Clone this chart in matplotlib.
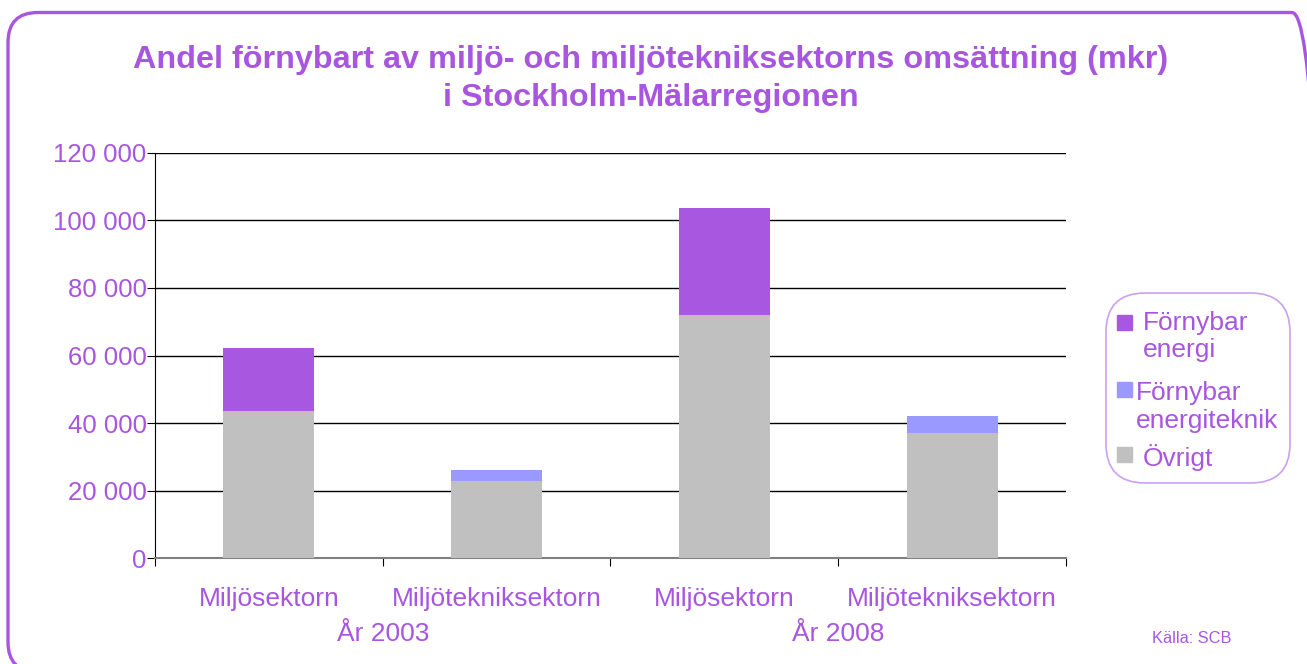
import numpy as np
import matplotlib.pyplot as plt
from matplotlib.patches import FancyBboxPatch, Rectangle
from matplotlib.ticker import FuncFormatter

plt.rcParams['font.family'] = ['Liberation Sans', 'DejaVu Sans']

# data (mkr)
sectors = ['Miljösektorn', 'Miljötekniksektorn', 'Miljösektorn', 'Miljötekniksektorn']
years = ['År 2003', 'År 2008']
ovrigt = [43600, 22800, 72000, 37000]
fornybar_energi = [18700, 0, 31600, 0]
fornybar_teknik = [0, 3300, 0, 5100]

purple = '#A757E0'
text_purple = '#A855E0'
light = '#9999FF'
gray = '#C0C0C0'

W, H = 1307, 664
fig = plt.figure(figsize=(W / 100, H / 100), dpi=100)
ax = fig.add_axes([0.1186, 0.1596, 0.697, 0.61])


def px(x, y):
    # pixel position (from top left) -> figure fraction
    return x / W, 1 - y / H


x = np.arange(len(sectors))
w = 0.4
ax.bar(x, ovrigt, w, color=gray, zorder=3)
ax.bar(x, fornybar_energi, w, bottom=ovrigt, color=purple, zorder=3)
ax.bar(x, fornybar_teknik, w, bottom=np.array(ovrigt) + np.array(fornybar_energi),
       color=light, zorder=3)

ax.set_xlim(-0.5, len(sectors) - 0.5)
ax.set_ylim(0, 120000)
ax.set_yticks(np.arange(0, 120001, 20000))
ax.yaxis.set_major_formatter(FuncFormatter(lambda v, p: f'{int(v):,}'.replace(',', ' ')))
ax.grid(axis='y', color='black', lw=1, zorder=0)

ax.set_xticks(np.arange(-0.5, len(sectors), 1))
ax.set_xticklabels([])
ax.set_xticks(x, minor=True)
ax.set_xticklabels(sectors, minor=True)
ax.tick_params(axis='x', which='major', length=6, direction='out', color='black')
ax.tick_params(axis='x', which='minor', length=0, pad=21, labelsize=19, labelcolor=text_purple)
ax.tick_params(axis='y', length=6, direction='out', labelsize=18.5, labelcolor=text_purple, pad=0)

for s in ['top', 'right']:
    ax.spines[s].set_visible(False)
ax.spines['bottom'].set_color('#808080')
ax.spines['bottom'].set_linewidth(1.5)
ax.spines['left'].set_color('black')

for i, yr in enumerate(years):
    ax.text(0.5 + 2 * i, -0.158, yr, transform=ax.get_xaxis_transform(),
            ha='center', va='top', fontsize=19, color=text_purple)

fig.text(0.498, 0.881, 'Andel förnybart av miljö- och miljötekniksektorns omsättning (mkr)\ni Stockholm-Mälarregionen',
         ha='center', va='center', fontsize=23.3, fontweight='bold', color=text_purple,
         linespacing=1.32)

# legend, drawn by hand to match the rounded box layout
fig.patches.append(FancyBboxPatch(px(1106, 483), 184 / W, 190 / H,
                                  boxstyle='round,pad=0,rounding_size=0.03',
                                  transform=fig.transFigure, fill=False,
                                  edgecolor='#CBA0F2', lw=1.2,
                                  mutation_aspect=W / H))
legend_items = [
    (purple, 315, 1143, [('Förnybar', 330), ('energi', 357)]),
    (light, 382, 1136, [('Förnybar', 400), ('energiteknik', 428)]),
    (gray, 447, 1143, [('Övrigt', 466)]),
]
for color, top, tx, lines in legend_items:
    fig.patches.append(Rectangle(px(1117, top + 15), 15 / W, 15 / H,
                                 transform=fig.transFigure, color=color))
    for label, base in lines:
        fig.text(*px(tx, base), label, fontsize=19, color=text_purple,
                 ha='left', va='baseline')

fig.text(0.912, 0.039, 'Källa: SCB', fontsize=11.8, color=text_purple, ha='center', va='center')

border = FancyBboxPatch((8, -8), 1314, 659.5, boxstyle='round,pad=0,rounding_size=30',
                        transform=None, fill=False, edgecolor=text_purple, lw=2.4)
fig.patches.append(border)

fig.savefig('out.png', dpi=100)
